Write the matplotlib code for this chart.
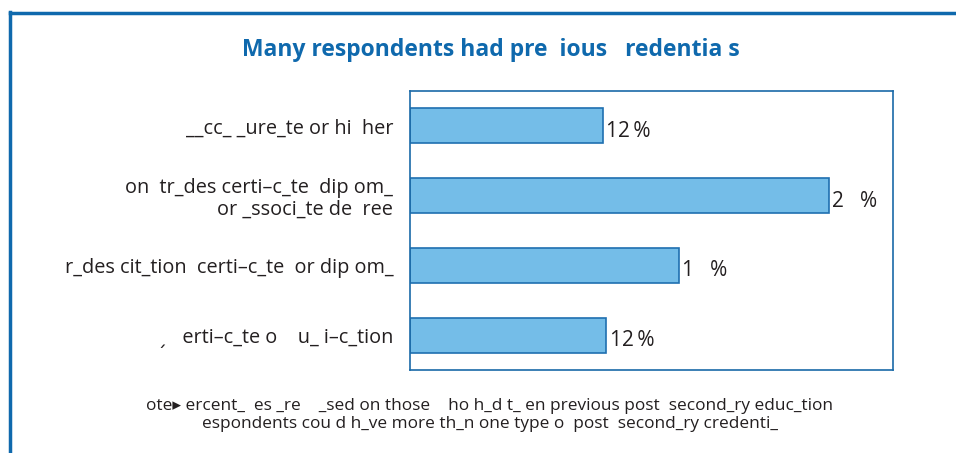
import matplotlib.pyplot as plt
from matplotlib.lines import Line2D

plt.rcParams['font.family'] = ['Open Sans', 'DejaVu Sans']

# data (text kept as it appears in the reference)
categories = [
    "__cc_ _ure_te or hi  her",
    "on  tr_des certi\u2013c_te  dip om_\nor _ssoci_te de  ree",
    "r_des cit_tion  certi\u2013c_te  or dip om_",
    "\u02cf   erti\u2013c_te o    u_ i\u2013c_tion",
]
values = [12, 26, 16.7, 12.2]
value_labels = ["12\u2009%", "2   %", "1   %", "12\u2009%"]

title = "Many respondents had pre  ious   redentia s"
note = ("ote\u25b8 ercent_  es _re    _sed on those    ho h_d t_ en previous post  second_ry educ_tion\n"
        "espondents cou d h_ve more th_n one type o  post  second_ry credenti_")

blue = "#0f69ad"
text_col = "#231f20"

fig = plt.figure(figsize=(9.56, 4.53), dpi=100)
ax = fig.add_axes([410 / 956, 1 - 370 / 453, 483 / 956, 279 / 453])

pos = list(range(len(categories)))
ax.barh(pos, values, height=0.5, color="#74bde8", edgecolor="#1f6fb0", linewidth=1.2)
ax.set_xlim(0, 30)
ax.set_ylim(3.5, -0.5)
ax.set_xticks([])
ax.set_yticks(pos)
ax.set_yticklabels(categories, fontsize=14.3, color=text_col, ha="right",
                   multialignment="right", linespacing=1.1)
ax.tick_params(axis="y", length=0, pad=12)
for s in ax.spines.values():
    s.set_color("#1a6aa8")
    s.set_linewidth(1.2)

for p, v, lab in zip(pos, values, value_labels):
    ax.text(v + 0.2, p + 0.08, lab, va="center", ha="left", fontsize=15, color=text_col)

fig.text(491 / 956, 1 - 50 / 453, title, ha="center", va="center", fontsize=16.5,
         fontweight="bold", color=blue)
fig.text(490 / 956, 1 - 415 / 453, note, ha="center", va="center", fontsize=12.4,
         color=text_col, linespacing=1.15)

# outer frame lines (top and left)
fig.add_artist(Line2D([10 / 956, 10 / 956], [0, 1 - 12 / 453], color=blue, lw=2.5))
fig.add_artist(Line2D([10 / 956, 1], [1 - 13 / 453, 1 - 13 / 453], color=blue, lw=2.5))

plt.savefig("out.png")
plt.close()
